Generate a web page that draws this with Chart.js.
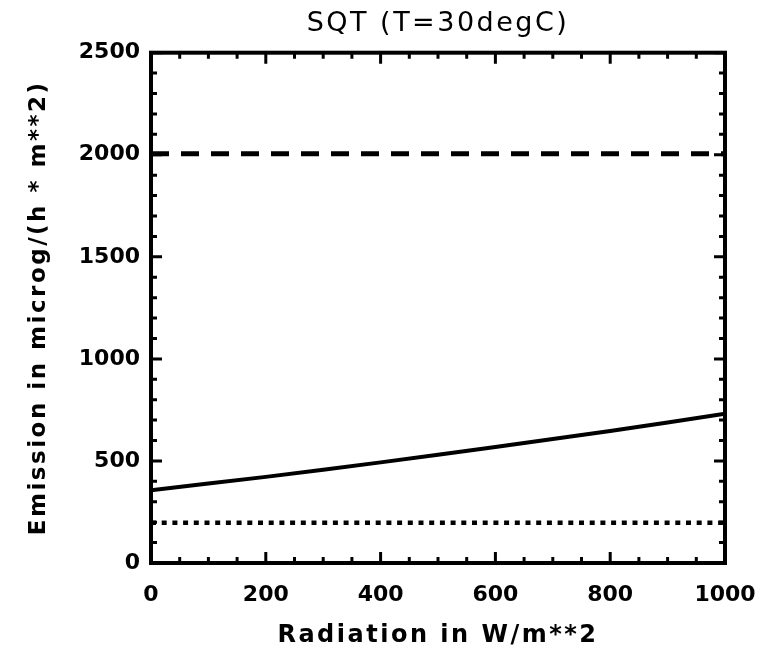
<!DOCTYPE html>
<html>
<head>
<meta charset="utf-8">
<title>SQT (T=30degC)</title>
<script src="https://cdn.jsdelivr.net/npm/chart.js@4.4.1/dist/chart.umd.min.js"></script>
<style>
  html, body { margin: 0; padding: 0; background: #fff; }
</style>
</head>
<body>
<canvas id="chart" width="776" height="650"></canvas>
<script>
// values
const radiation = [0, 100, 200, 300, 400, 500, 600, 700, 800, 900, 1000];
const emission = [356, 389, 422, 457, 493, 530, 568, 607, 647, 688, 731];
const upperLevel = [2005, 2005, 2005, 2005, 2005, 2005, 2005, 2005, 2005, 2005, 2005];
const lowerLevel = [197, 197, 197, 197, 197, 197, 197, 197, 197, 197, 197];

const xTickValues = [0, 200, 400, 600, 800, 1000];
const yTickValues = [0, 500, 1000, 1500, 2000, 2500];
const xMinorStep = 50;
const yMinorStep = 100;

const toPoints = ys => radiation.map((x, i) => ({ x: x, y: ys[i] }));

// IDL style box: thick frame with inward ticks on all four sides,
// plus some letter spacing for the titles (tick labels are drawn after datasets, without it)
const idlFrame = {
  id: 'idlFrame',
  beforeDraw(chart) {
    chart.ctx.letterSpacing = '2.5px';
  },
  beforeDatasetsDraw(chart) {
    chart.ctx.letterSpacing = '0px';
  },
  afterDraw(chart) {
    const { ctx, chartArea: a, scales: { x, y } } = chart;
    ctx.save();
    ctx.strokeStyle = '#000';
    ctx.lineWidth = 3;
    ctx.beginPath();
    for (let v = x.min; v <= x.max; v += xMinorStep) {
      const px = x.getPixelForValue(v);
      const len = xTickValues.includes(v) ? 11 : 6;
      ctx.moveTo(px, a.bottom); ctx.lineTo(px, a.bottom - len);
      ctx.moveTo(px, a.top); ctx.lineTo(px, a.top + len);
    }
    for (let v = y.min; v <= y.max; v += yMinorStep) {
      const py = y.getPixelForValue(v);
      const len = yTickValues.includes(v) ? 11 : 6;
      ctx.moveTo(a.left, py); ctx.lineTo(a.left + len, py);
      ctx.moveTo(a.right, py); ctx.lineTo(a.right - len, py);
    }
    ctx.stroke();
    ctx.lineWidth = 4;
    ctx.strokeRect(a.left, a.top, a.right - a.left, a.bottom - a.top);
    ctx.restore();
  }
};

const tickFont = { family: 'DejaVu Sans', size: 22, weight: 'bold' };

new Chart(document.getElementById('chart'), {
  type: 'line',
  data: {
    datasets: [
      { data: toPoints(emission), borderColor: '#000', borderWidth: 4, pointRadius: 0 },
      { data: toPoints(upperLevel), borderColor: '#000', borderWidth: 5, borderDash: [18, 12], pointRadius: 0 },
      { data: toPoints(lowerLevel), borderColor: '#000', borderWidth: 4.5, borderDash: [5, 5.7], pointRadius: 0 }
    ]
  },
  options: {
    responsive: false,
    animation: false,
    layout: { padding: { left: 0, right: 51, top: 0, bottom: 0 } },
    plugins: {
      legend: { display: false },
      tooltip: { enabled: false },
      title: {
        display: true,
        text: 'SQT (T=30degC)',
        fullSize: false,
        color: '#000',
        font: { family: 'DejaVu Sans', size: 27, weight: 'normal', lineHeight: 1.1 },
        padding: { top: 9, bottom: 14 }
      }
    },
    scales: {
      x: {
        type: 'linear',
        min: 0,
        max: 1000,
        afterBuildTicks: scale => { scale.ticks = xTickValues.map(v => ({ value: v })); },
        afterFit: scale => { scale.height = 87; },
        grid: { display: false, drawTicks: false },
        border: { display: false },
        ticks: { color: '#000', font: tickFont, padding: 19, maxRotation: 0, z: 1, callback: v => String(v) },
        title: {
          display: true,
          text: 'Radiation in W/m**2',
          color: '#000',
          font: { family: 'DejaVu Sans', size: 24, weight: 'bold' },
          padding: { top: 15, bottom: 0 }
        }
      },
      y: {
        min: 0,
        max: 2500,
        afterBuildTicks: scale => { scale.ticks = yTickValues.map(v => ({ value: v })); },
        afterFit: scale => { scale.width = 151; },
        grid: { display: false, drawTicks: false },
        border: { display: false },
        ticks: { color: '#000', font: tickFont, padding: 11, z: 1, callback: v => String(v) },
        title: {
          display: true,
          text: 'Emission in microg/(h * m**2)',
          color: '#000',
          font: { family: 'DejaVu Sans', size: 23, weight: 'bold' },
          padding: { top: 25, bottom: 0 }
        }
      }
    }
  },
  plugins: [idlFrame]
});
</script>
</body>
</html>
